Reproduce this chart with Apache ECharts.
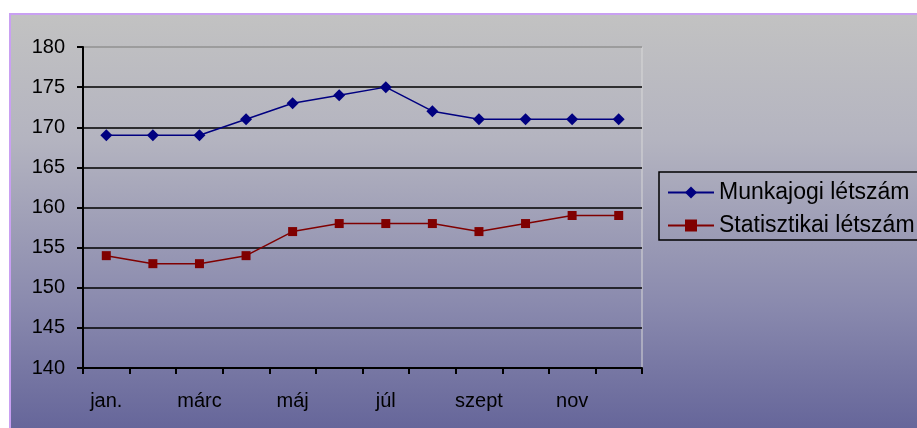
<!DOCTYPE html>
<html>
<head>
<meta charset="utf-8">
<script src="https://cdn.jsdelivr.net/npm/echarts@6/dist/echarts.min.js"></script>
<style>
html,body{margin:0;padding:0;background:#fff;}
#wrap{position:relative;width:917px;height:428px;overflow:hidden;}
#box{position:absolute;left:9px;top:13px;right:0;bottom:0;border-top:2px solid #c9a0f2;border-left:2px solid #c9a0f2;
background:linear-gradient(to bottom,#c2c2c2 0%,#b4b4c0 30%,#8a8aae 70%,#66669a 100%);}
#chart{position:absolute;left:0;top:0;width:917px;height:428px;}
</style>
</head>
<body>
<div id="wrap"><div id="box"></div><div id="chart"></div></div>
<script>
var months=['jan.','febr','márc','ápr','máj','jún','júl','aug','szept','okt','nov','dec'];
var munkajogi=[169,169,169,171,173,174,175,172,171,171,171,171];
var statisztikai=[154,153,153,154,157,158,158,158,157,158,159,159];
var yTicks=[140,145,150,155,160,165,170,175,180];

var chart=echarts.init(document.getElementById('chart'));
var lineColors=yTicks.map(function(v){return v==180?'#8c8c8c':'#000';});
var option={
	backgroundColor:'transparent',
	animation:false,
	textStyle:{fontFamily:'Liberation Sans, Arial, sans-serif'},
	grid:{left:83,right:275,top:47,bottom:60,show:true,borderColor:'#d8d8d8',borderWidth:1},
	legend:{
		orient:'vertical',left:659,top:172,
		padding:[9,20,3,8],itemGap:10,itemWidth:46,itemHeight:15,
		borderColor:'#000',borderWidth:1.5,
		textStyle:{fontSize:23,color:'#000'},
		data:['Munkajogi létszám','Statisztikai létszám']
	},
	xAxis:{
		type:'category',boundaryGap:true,data:months,
		axisLine:{lineStyle:{color:'#000',width:2}},
		axisTick:{show:true,interval:0,length:6,lineStyle:{color:'#000',width:2}},
		axisLabel:{interval:1,fontSize:20,color:'#000',margin:23}
	},
	yAxis:{
		type:'value',min:140,max:180,interval:5,
		axisLine:{show:true,lineStyle:{color:'#000',width:2}},
		axisTick:{show:true,length:6,lineStyle:{color:'#000',width:2}},
		axisLabel:{fontSize:20,color:'#000',margin:18},
		splitLine:{show:true,lineStyle:{color:lineColors,width:1.5}}
	},
	series:[{
		name:'Munkajogi létszám',type:'line',data:munkajogi,
		symbol:'diamond',symbolSize:12,
		lineStyle:{color:'#000080',width:1.5},
		itemStyle:{color:'#000080'}
	},{
		name:'Statisztikai létszám',type:'line',data:statisztikai,
		symbol:'rect',symbolSize:9,
		lineStyle:{color:'#800000',width:1.5},
		itemStyle:{color:'#800000'}
	}]
};
chart.setOption(option);
</script>
</body>
</html>
